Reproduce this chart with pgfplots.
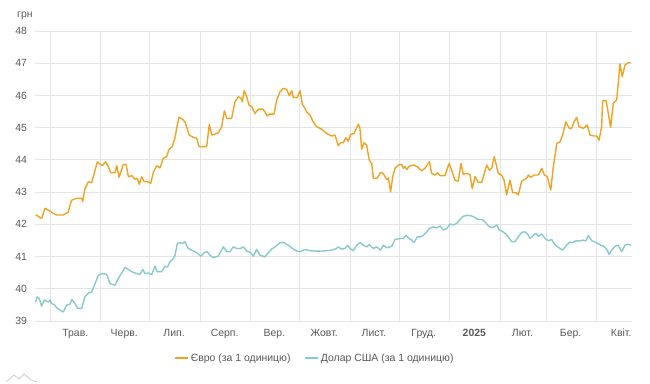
\documentclass[border=0pt]{standalone}
\usepackage{fontspec}
\setmainfont{Liberation Sans}
\usepackage{pgfplots}
\pgfplotsset{compat=1.18}
\usetikzlibrary{calc}
\definecolor{euro}{HTML}{F0A322}
\definecolor{usd}{HTML}{86CACB}
\definecolor{gridc}{HTML}{E4E4E4}
\definecolor{txt}{HTML}{585858}
\begin{document}
\begin{tikzpicture}[x=1bp,y=1bp]
\begin{axis}[
  scale only axis,
  width=597bp, height=290bp,
  xmin=-9.2, xmax=356.6, ymin=39, ymax=48,
  axis line style={draw=none},
  xtick={0,31,61,92,123,153,184,214,245,276,304,335},
  xticklabels={},
  extra x ticks={15.5,45.5,76,107,137.5,168,198.5,229,260,289.5,319,350},
  extra x tick labels={Трав.,Черв.,Лип.,Серп.,Вер.,Жовт.,Лист.,Груд.,\textbf{2025},Лют.,Бер.,Квіт.},
  extra x tick style={grid=none, major tick length=0pt},
  ytick={39,40,41,42,43,44,45,46,47,48},
  grid=major,
  major grid style={draw=gridc, line width=0.8bp},
  major tick length=0pt,
  tick label style={font=\fontsize{10.5}{12}\selectfont, text=txt},
  /pgf/number format/assume math mode=true,
  yticklabel style={xshift=-4.5bp},
  xticklabel style={yshift=-4.5bp},
  legend columns=2,
  legend style={at={(axis description cs:0.469,-0.128)}, anchor=center, draw=none, fill=none,
    font=\fontsize{10.5}{12}\selectfont, text=txt, inner sep=0pt,
    /tikz/every even column/.append style={column sep=12bp}},
  legend cell align=left,
  legend image code/.code={\draw[#1, line width=1.3bp] (0bp,0bp) -- (13bp,0bp);},
]
\addplot[euro, line width=1.4bp, line join=round] coordinates {
(-8.8,42.30) (-5.1,42.18) (-3.1,42.50) (0,42.41) (2.0,42.34) (4.1,42.29) (8.1,42.29) (11.2,42.38)
(12.3,42.60) (13.3,42.75) (16.4,42.81) (19.4,42.81) (20.0,42.70) (21.4,43.10) (23.5,43.32) (25.5,43.29)
(27.1,43.58) (29.0,43.94) (30.6,43.87) (32.0,43.82) (34.1,43.94) (35.7,43.79) (37.2,43.60) (39.8,43.60)
(40.9,43.82) (42.3,43.46) (44.9,43.86) (46.6,43.86) (48.0,43.48) (50.1,43.51) (52.1,43.40) (53.5,43.43)
(54.7,43.24) (56.2,43.48) (57.8,43.32) (60.2,43.32) (61.7,43.27) (63.3,43.61) (65.4,43.82) (67.4,43.75)
(69.4,44.05) (71.5,44.10) (72.9,44.33) (74.9,44.41) (76.6,44.69) (77.6,44.98) (79.0,45.32) (81.3,45.26)
(82.7,45.18) (85.3,44.77) (87.8,44.70) (89.9,44.67) (91.3,44.41) (96.0,44.41) (97.6,45.10) (99.1,44.77)
(101.1,44.80) (103.1,44.84) (105.2,45.03) (106.8,45.52) (108.3,45.29) (111.3,45.29) (113.3,45.80) (115.4,45.96)
(117.0,45.91) (117.8,45.80) (119.0,46.15) (120.5,45.96) (121.9,45.70) (123.6,45.65) (125.6,45.44) (127.6,45.57)
(130.3,45.58) (131.7,45.49) (133.1,45.36) (134.4,45.42) (137.2,45.42) (138.9,45.86) (140.9,46.11) (142.9,46.22)
(145.0,46.19) (146.6,45.99) (148.1,46.15) (149.1,45.94) (151.5,45.93) (153.2,46.15) (154.6,45.73) (156.2,45.60)
(157.3,45.49) (159.3,45.39) (161.3,45.18) (163.4,45.03) (166.5,44.95) (169.5,44.82) (172.6,44.74) (174.6,44.77)
(176.6,44.44) (178.3,44.54) (179.7,44.53) (181.2,44.69) (182.8,44.58) (184.2,44.79) (186.3,44.82) (188.9,45.11)
(189.9,44.98) (191.0,44.33) (192.4,44.53) (194.0,44.46) (195.6,43.99) (197.1,43.89) (198.1,43.43) (200.5,43.43)
(202.6,43.61) (204.2,43.58) (206.3,43.39) (207.3,43.44) (208.7,43.01) (210.0,43.48) (211.4,43.74) (213.4,43.84)
(215.5,43.86) (216.5,43.74) (217.5,43.79) (218.6,43.70) (220.1,43.81) (223.0,43.84) (225.0,43.79) (227.7,43.66)
(229.8,43.74) (232.4,43.94) (233.9,43.58) (235.9,43.53) (237.5,43.60) (239.0,43.51) (242.0,43.51) (244.5,43.89)
(246.1,43.68) (248.1,43.37) (250.2,43.34) (251.8,43.89) (253.2,43.55) (254.9,43.58) (257.3,43.55) (258.7,43.11)
(260.4,43.48) (262.4,43.30) (264.5,43.30) (267.6,43.84) (269.2,43.68) (270.6,43.74) (272.2,44.10) (274.7,43.58)
(276.7,43.53) (278.2,43.37) (279.8,42.91) (281.8,43.37) (283.5,42.98) (285.5,42.98) (286.9,42.91) (289.0,43.34)
(292.1,43.43) (293.1,43.53) (294.5,43.46) (296.7,43.53) (299.2,43.53) (301.3,43.74) (302.9,43.53) (304.7,43.48)
(306.8,43.06) (308.4,43.79) (310.5,44.51) (312.5,44.56) (314.1,44.77) (316.0,45.18) (318.2,44.98) (319.6,44.98)
(321.1,45.18) (322.7,45.32) (324.1,45.03) (326.8,44.98) (329.2,45.08) (330.9,44.77) (333.3,44.74) (335.0,44.74)
(336.4,44.61) (338.0,45.03) (338.6,45.83) (340.7,45.84) (342.1,45.44) (343.5,45.01) (345.1,45.75) (347.2,45.86)
(348.2,46.38) (349.2,46.98) (350.6,46.58) (352.3,46.94) (354.3,47.02) (355.8,47.02)
};
\addlegendentry{Євро (за 1 одиницю)}
\addplot[usd, line width=1.4bp, line join=round] coordinates {
(-8.8,39.59) (-7.8,39.75) (-6.6,39.70) (-5.1,39.46) (-3.5,39.65) (-1.0,39.59) (0,39.65) (1.0,39.54)
(2.6,39.51) (4.1,39.41) (6.1,39.34) (8.1,39.28) (10.2,39.49) (12.3,39.52) (13.3,39.67) (15.3,39.54)
(17.0,39.39) (19.4,39.39) (21.4,39.75) (23.5,39.87) (25.5,39.90) (27.6,40.16) (29.6,40.42) (31.7,40.47)
(34.7,40.45) (36.8,40.16) (39.8,40.11) (41.8,40.32) (43.9,40.49) (46.0,40.66) (48.0,40.60) (50.1,40.53)
(53.1,40.47) (55.1,40.45) (56.8,40.60) (58.2,40.47) (60.2,40.49) (62.3,40.44) (64.3,40.70) (65.7,40.53)
(68.4,40.53) (70.5,40.70) (72.1,40.68) (73.5,40.84) (75.2,40.91) (76.6,41.04) (78.0,41.41) (79.7,41.43)
(81.3,41.41) (82.7,41.46) (84.7,41.25) (87.4,41.18) (89.9,41.12) (92.5,41.01) (94.4,41.12) (96.4,41.15)
(98.0,41.04) (100.1,40.97) (103.1,41.01) (106.2,41.30) (108.3,41.15) (110.3,41.15) (112.3,41.30) (114.4,41.25)
(116.8,41.25) (118.4,41.30) (120.5,41.17) (123.0,41.12) (124.6,41.01) (126.6,41.22) (128.7,41.04) (131.7,40.99)
(133.8,41.12) (135.8,41.23) (137.9,41.30) (140.9,41.43) (143.4,41.43) (146.0,41.35) (148.1,41.27) (150.7,41.18)
(153.2,41.15) (156.2,41.22) (159.3,41.18) (162.4,41.17) (165.4,41.17) (169.5,41.18) (172.6,41.20) (175.7,41.25)
(176.6,41.30) (178.7,41.23) (180.7,41.25) (182.4,41.35) (183.8,41.25) (185.8,41.18) (187.9,41.35) (189.9,41.43)
(192.0,41.35) (194.0,41.30) (195.6,41.38) (198.1,41.25) (200.2,41.30) (202.6,41.20) (204.2,41.35) (206.3,41.27)
(209.4,41.32) (211.4,41.53) (214.4,41.56) (216.5,41.56) (218.1,41.66) (220.1,41.56) (221.6,41.51) (223.0,41.43)
(225.0,41.61) (227.1,41.61) (228.7,41.66) (230.4,41.74) (232.4,41.87) (234.8,41.92) (236.9,41.89) (239.0,41.95)
(241.0,41.82) (243.1,41.87) (245.1,42.01) (247.1,41.98) (249.2,42.03) (251.2,42.15) (253.2,42.25) (255.7,42.28)
(258.4,42.26) (260.4,42.21) (262.4,42.15) (264.5,42.15) (266.5,42.08) (268.5,41.95) (270.6,41.90) (272.2,41.92)
(273.7,41.98) (275.3,41.82) (277.4,41.77) (279.4,41.70) (281.4,41.56) (282.9,41.46) (284.9,41.46) (286.9,41.61)
(289.0,41.75) (291.0,41.77) (292.7,41.69) (294.1,41.56) (296.1,41.66) (297.8,41.72) (299.2,41.63) (301.3,41.70)
(303.3,41.56) (305.3,41.49) (307.4,41.53) (308.8,41.41) (310.5,41.32) (312.5,41.25) (314.1,41.20) (316.2,41.33)
(318.2,41.44) (320.3,41.44) (322.3,41.49) (324.3,41.48) (326.4,41.51) (328.4,41.49) (329.8,41.65) (331.9,41.49)
(335.0,41.43) (337.4,41.35) (339.4,41.32) (341.1,41.22) (342.7,41.06) (344.1,41.20) (346.2,41.32) (348.2,41.35)
(350.3,41.15) (352.3,41.35) (354.3,41.38) (355.8,41.35)
};
\addlegendentry{Долар США (за 1 одиницю)}
\end{axis}
\coordinate (SW) at (current axis.south west);
\coordinate (NE) at (current axis.north east);
\pgfresetboundingbox
\path[use as bounding box] ($(SW)+(-35,-63)$) rectangle ($(NE)+(18,31)$);
\node[anchor=base west, font=\fontsize{10.5}{12}\selectfont, text=txt, inner sep=0pt] at ($(SW)+(-18,303)$) {грн};
\draw[gray!40, line width=0.8bp, line join=round] ($(SW)+(-29,-61)$) -- ++(8,7) -- ++(5,-4) -- ++(5,5) -- ++(7,-6) -- ++(6,-2);
\end{tikzpicture}
\end{document}
